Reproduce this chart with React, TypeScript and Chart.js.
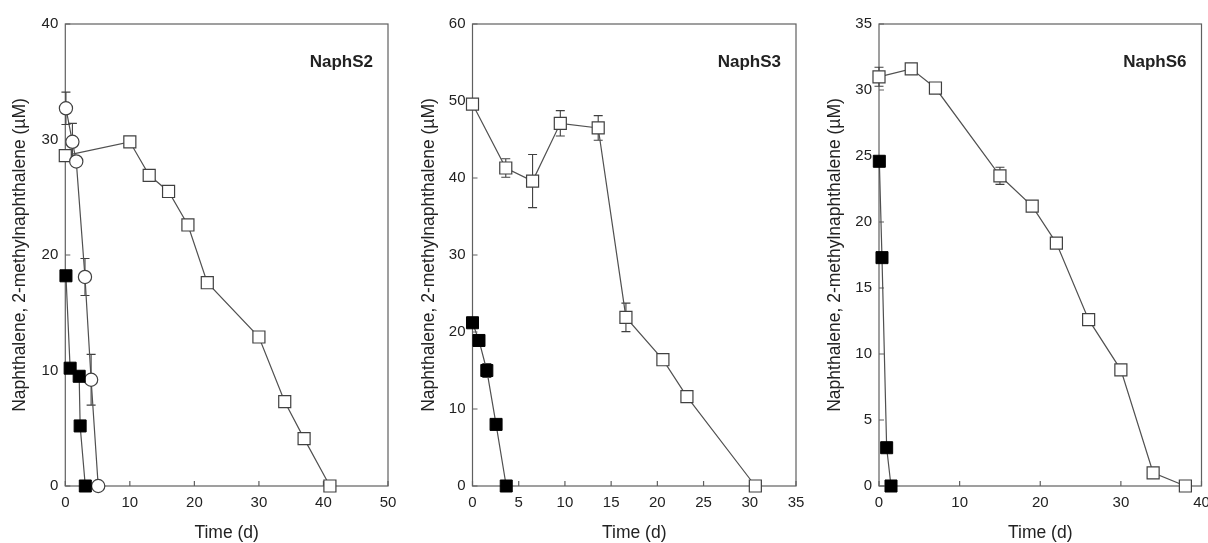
import React, { useEffect, useRef } from "react";
import { Chart, registerables } from "chart.js";
Chart.register(...registerables);

const FONT = "'Liberation Sans', Arial, Helvetica, sans-serif";
const LINE = "#505050";
const FRAME = "#606060";
const TEXT = "#222222";

const yTitle = "Naphthalene, 2-methylnaphthalene (\u00B5M)";
const xTitle = "Time (d)";

// ---- NaphS2 ----
const s2Label = "NaphS2";
const s2XTicks = { min: 0, max: 50, step: 10 };
const s2YTicks = { min: 0, max: 40, step: 10 };
const s2OpenX = [0, 10, 13, 16, 19, 22, 30, 34, 37, 41];
const s2OpenY = [28.6, 29.8, 26.9, 25.5, 22.6, 17.6, 12.9, 7.3, 4.1, 0];
const s2CircX = [0.1, 1.1, 1.7, 3.05, 4.0, 5.1];
const s2CircY = [32.7, 29.8, 28.1, 18.1, 9.2, 0];
const s2CircErr = [1.4, 1.6, null, 1.6, 2.2, null];
const s2FillX = [0.1, 0.75, 2.15, 2.3, 3.1];
const s2FillY = [18.2, 10.2, 9.5, 5.2, 0];

// ---- NaphS3 ----
const s3Label = "NaphS3";
const s3XTicks = { min: 0, max: 35, step: 5 };
const s3YTicks = { min: 0, max: 60, step: 10 };
const s3OpenX = [0, 3.6, 6.5, 9.5, 13.6, 16.6, 20.6, 23.2, 30.6];
const s3OpenY = [49.6, 41.3, 39.6, 47.1, 46.5, 21.9, 16.4, 11.6, 0];
const s3OpenErr = [null, 1.2, 3.45, 1.65, 1.6, 1.85, null, null, null];
const s3FillX = [0, 0.7, 1.55, 2.55, 3.65];
const s3FillY = [21.2, 18.9, 15.0, 8.0, 0];
const s3FillErr = [null, null, 0.9, null, null];

// ---- NaphS6 ----
const s6Label = "NaphS6";
const s6XTicks = { min: 0, max: 40, step: 10 };
const s6YTicks = { min: 0, max: 35, step: 5 };
const s6OpenX = [0, 4, 7, 15, 19, 22, 26, 30, 34, 38];
const s6OpenY = [31.0, 31.6, 30.15, 23.5, 21.2, 18.4, 12.6, 8.8, 1.0, 0];
const s6OpenErr = [0.72, null, null, 0.65, null, null, null, null, null, null];
const s6FillX = [0.04, 0.37, 0.95, 1.49];
const s6FillY = [24.6, 17.3, 2.9, 0];

const pts = (xs: number[], ys: number[]) => xs.map((x, i) => ({ x, y: ys[i] }));

const openSquare = (xs: number[], ys: number[], errs?: (number | null)[]) => ({
  data: pts(xs, ys),
  errors: errs,
  showLine: true,
  borderColor: LINE,
  borderWidth: 1.2,
  pointStyle: "rect",
  pointRadius: 8.5,
  pointBackgroundColor: "#ffffff",
  pointBorderColor: "#404040",
  pointBorderWidth: 1.2,
  clip: false,
});
const filledSquare = (xs: number[], ys: number[], errs?: (number | null)[]) => ({
  data: pts(xs, ys),
  errors: errs,
  showLine: true,
  borderColor: LINE,
  borderWidth: 1.2,
  pointStyle: "rect",
  pointRadius: 8.5,
  pointBackgroundColor: "#000000",
  pointBorderColor: "#000000",
  pointBorderWidth: 1,
  clip: false,
});
const openCircle = (xs: number[], ys: number[], errs?: (number | null)[]) => ({
  data: pts(xs, ys),
  errors: errs,
  showLine: true,
  borderColor: LINE,
  borderWidth: 1.2,
  pointStyle: "circle",
  pointRadius: 6.6,
  pointBackgroundColor: "#ffffff",
  pointBorderColor: "#404040",
  pointBorderWidth: 1.2,
  clip: false,
});

const decor = {
  id: "decor",
  beforeDatasetsDraw(chart: any) {
    const { ctx, chartArea: a, scales } = chart;
    const xs = scales.x;
    const ys = scales.y;
    ctx.save();
    ctx.strokeStyle = FRAME;
    ctx.lineWidth = 1.2;
    ctx.strokeRect(a.left, a.top, a.right - a.left, a.bottom - a.top);
    ctx.beginPath();
    xs.ticks.forEach((_t: any, i: number) => {
      const px = xs.getPixelForTick(i);
      ctx.moveTo(px, a.bottom);
      ctx.lineTo(px, a.bottom - 5);
    });
    ys.ticks.forEach((_t: any, i: number) => {
      const py = ys.getPixelForTick(i);
      ctx.moveTo(a.left, py);
      ctx.lineTo(a.left + 5, py);
    });
    ctx.stroke();
    ctx.strokeStyle = "#404040";
    ctx.lineWidth = 1.1;
    chart.data.datasets.forEach((ds: any) => {
      const errs = ds.errors;
      if (!errs) return;
      ds.data.forEach((p: any, i: number) => {
        const e = errs[i];
        if (e == null) return;
        const px = xs.getPixelForValue(p.x);
        const t = ys.getPixelForValue(p.y + e);
        const b = ys.getPixelForValue(p.y - e);
        ctx.beginPath();
        ctx.moveTo(px, t);
        ctx.lineTo(px, b);
        ctx.moveTo(px - 4.5, t);
        ctx.lineTo(px + 4.5, t);
        ctx.moveTo(px - 4.5, b);
        ctx.lineTo(px + 4.5, b);
        ctx.stroke();
      });
    });
    ctx.restore();
  },
  afterDraw(chart: any, _args: any, opts: any) {
    const { ctx, chartArea: a } = chart;
    ctx.save();
    ctx.fillStyle = TEXT;
    ctx.font = `bold 17px ${FONT}`;
    ctx.textAlign = "right";
    ctx.textBaseline = "middle";
    ctx.fillText(opts.label, a.right - 15, a.top + 38);
    ctx.font = `17.5px ${FONT}`;
    ctx.textAlign = "center";
    ctx.fillText(xTitle, (a.left + a.right) / 2, a.bottom + 47);
    ctx.translate(a.left - opts.yTitleOffset, (a.top + a.bottom) / 2);
    ctx.rotate(-Math.PI / 2);
    ctx.fillText(yTitle, 0, 0);
    ctx.restore();
  },
};

type PanelCfg = {
  left: number;
  width: number;
  yWidth: number;
  rightPad: number;
  label: string;
  yTitleOffset: number;
  xt: { min: number; max: number; step: number };
  yt: { min: number; max: number; step: number };
  datasets: any[];
};

const TOP = 24;
const XH = 57;

function Panel({ cfg }: { cfg: PanelCfg }) {
  const ref = useRef<HTMLCanvasElement | null>(null);
  useEffect(() => {
    if (!ref.current) return;
    const tickFont = { family: FONT, size: 15 };
    const chart = new Chart(ref.current, {
      type: "scatter",
      data: { datasets: cfg.datasets },
      options: {
        animation: false,
        responsive: false,
        layout: { padding: { top: TOP, right: cfg.rightPad, left: 0, bottom: 0 } },
        plugins: {
          legend: { display: false },
          tooltip: { enabled: false },
          decor: { label: cfg.label, yTitleOffset: cfg.yTitleOffset },
        } as any,
        scales: {
          x: {
            type: "linear",
            min: cfg.xt.min,
            max: cfg.xt.max,
            ticks: { stepSize: cfg.xt.step, padding: 8, color: TEXT, font: tickFont, autoSkip: false, maxRotation: 0 },
            grid: { display: false, drawTicks: false },
            border: { display: false },
            afterFit: (s: any) => {
              s.height = XH;
              s.paddingLeft = 0;
              s.paddingRight = 0;
            },
          },
          y: {
            type: "linear",
            min: cfg.yt.min,
            max: cfg.yt.max,
            ticks: { stepSize: cfg.yt.step, padding: 7, color: TEXT, font: tickFont, autoSkip: false },
            grid: { display: false, drawTicks: false },
            border: { display: false },
            afterFit: (s: any) => {
              s.width = cfg.yWidth;
              s.paddingTop = 0;
              s.paddingBottom = 0;
            },
          },
        },
      } as any,
      plugins: [decor as any],
    });
    return () => chart.destroy();
  }, []);
  return (
    <canvas
      ref={ref}
      width={cfg.width}
      height={543}
      style={{ position: "absolute", left: cfg.left, top: 0, width: cfg.width, height: 543 }}
    />
  );
}

const panels: PanelCfg[] = [
  {
    left: 0,
    width: 400,
    yWidth: 65.3,
    rightPad: 12,
    label: s2Label,
    yTitleOffset: 45,
    xt: s2XTicks,
    yt: s2YTicks,
    datasets: [
      filledSquare(s2FillX, s2FillY),
      openCircle(s2CircX, s2CircY, s2CircErr),
      openSquare(s2OpenX, s2OpenY),
    ],
  },
  {
    left: 404,
    width: 404,
    yWidth: 68.5,
    rightPad: 12,
    label: s3Label,
    yTitleOffset: 43,
    xt: s3XTicks,
    yt: s3YTicks,
    datasets: [filledSquare(s3FillX, s3FillY, s3FillErr), openSquare(s3OpenX, s3OpenY, s3OpenErr)],
  },
  {
    left: 808,
    width: 420,
    yWidth: 71,
    rightPad: 26.5,
    label: s6Label,
    yTitleOffset: 44,
    xt: s6XTicks,
    yt: s6YTicks,
    datasets: [filledSquare(s6FillX, s6FillY), openSquare(s6OpenX, s6OpenY, s6OpenErr)],
  },
];

export default function App() {
  return (
    <div style={{ position: "fixed", left: 0, top: 0, width: 1208, height: 543, background: "#fff", overflow: "hidden" }}>
      {panels.map((p, i) => (
        <Panel key={i} cfg={p} />
      ))}
    </div>
  );
}
